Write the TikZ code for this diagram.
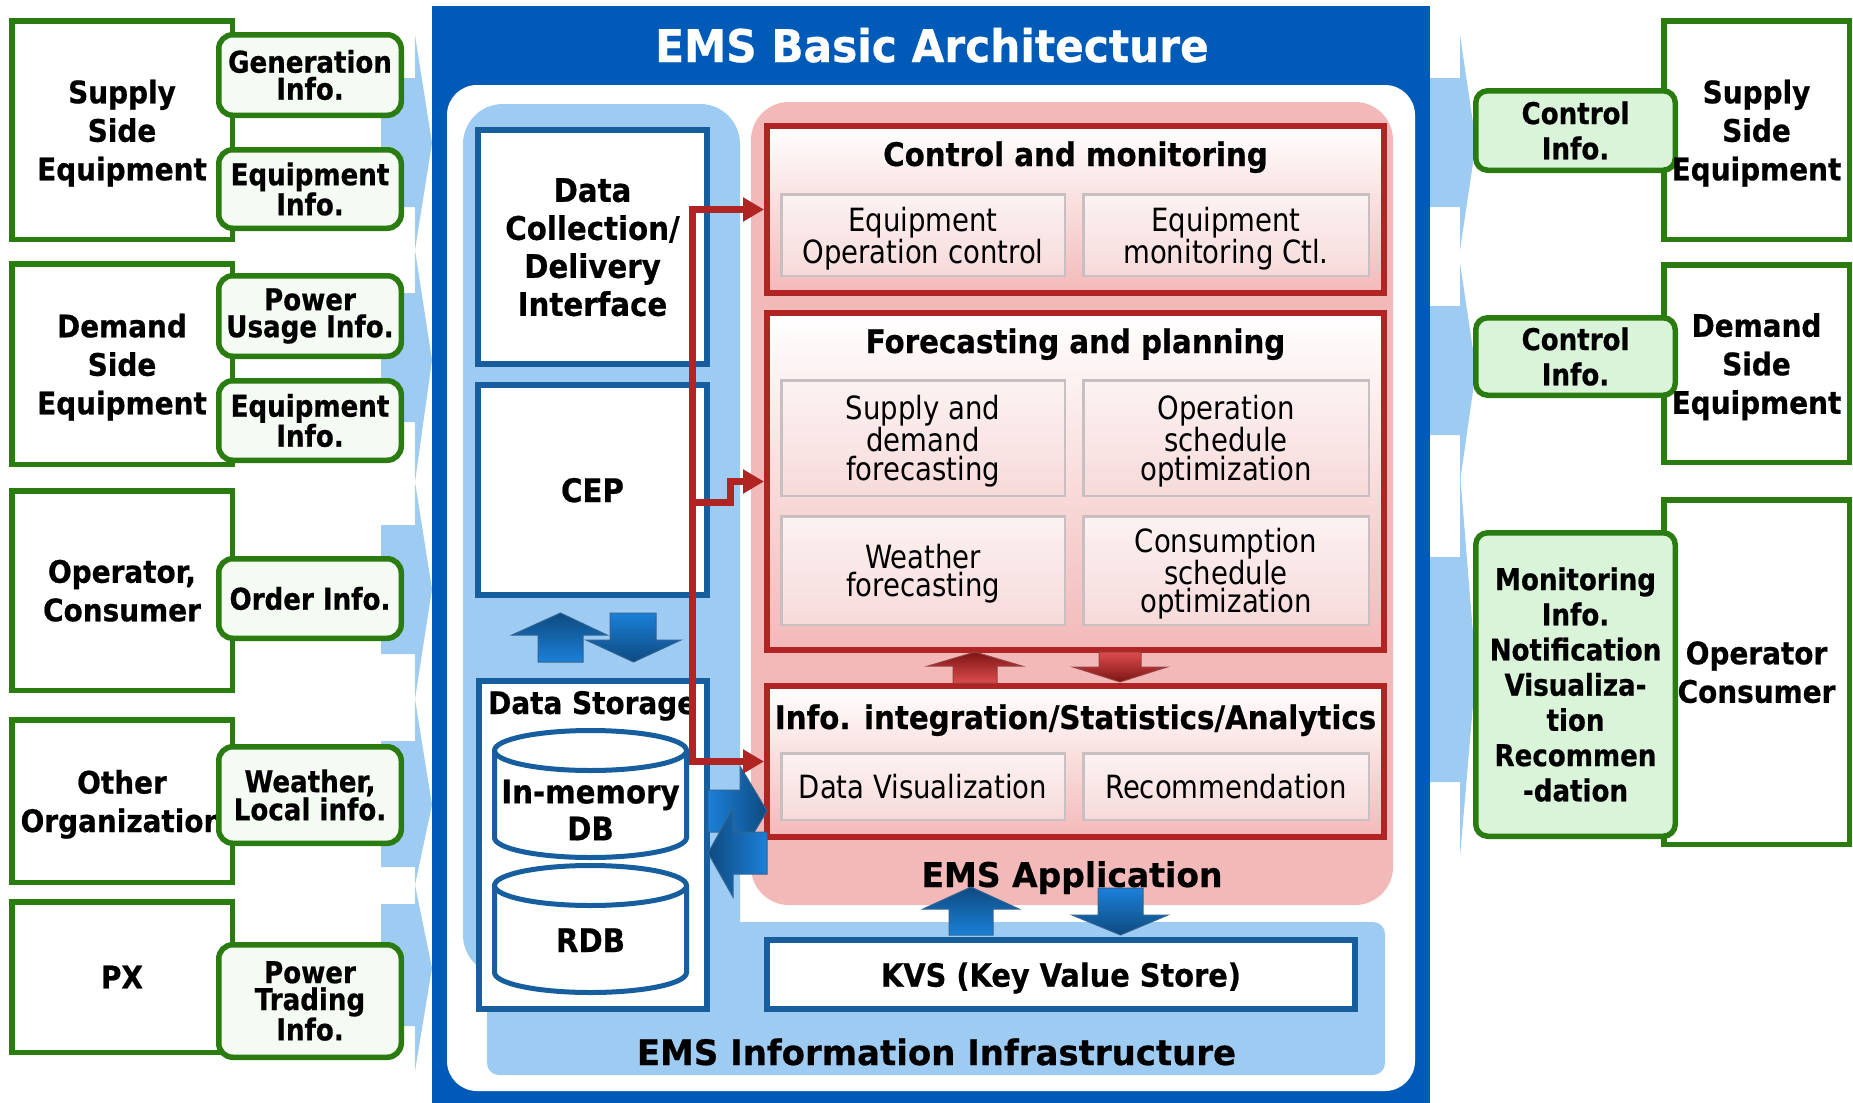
\documentclass[tikz,border=0pt]{standalone}
\usepackage{fontspec}
\setmainfont{DejaVu Sans}
\newfontfamily\fA{DejaVu Sans}[FakeStretch=0.90, BoldFeatures={FakeBold=0.6}]
\newfontfamily\fI{DejaVu Sans}[FakeStretch=0.87, BoldFeatures={FakeBold=0.6}]
\newfontfamily\fC{DejaVu Sans}[FakeStretch=0.86]
\newfontfamily\fT{DejaVu Sans}[FakeStretch=0.94, BoldFeatures={FakeBold=0.6}]
\newfontfamily\fE{DejaVu Sans}[FakeStretch=0.97, BoldFeatures={FakeBold=0.6}]
\usetikzlibrary{arrows.meta}

\definecolor{emsblue}{HTML}{005BB8}
\definecolor{skyb}{HTML}{9ECBF2}
\definecolor{grn}{HTML}{2A7B10}
\definecolor{grnL}{HTML}{F4FBF2}
\definecolor{grnR}{HTML}{DAF4DA}
\definecolor{dkb}{HTML}{165E9E}
\definecolor{redb}{HTML}{B02424}
\definecolor{pinkbg}{HTML}{F3B9B9}
\definecolor{subgray}{HTML}{C8C0C0}
\definecolor{subtop}{HTML}{FCF2F2}
\definecolor{subbot}{HTML}{F7DADA}
\definecolor{arrlight}{HTML}{1B80D8}
\definecolor{arrdark}{HTML}{0E4A80}
\definecolor{redlight}{HTML}{DE4C4C}
\definecolor{reddark}{HTML}{7C1414}

\begin{document}
\begin{tikzpicture}[x=1pt,y=-1pt,
  bigbox/.style={draw=grn, line width=5.5pt, fill=white, inner sep=0pt, align=center,
    text depth=0pt, font=\fA\bfseries\fontsize{31}{38.5}\selectfont},
  boxlabel/.style={inner sep=0pt, align=center, text depth=0pt,
    font=\fA\bfseries\fontsize{31}{38.5}\selectfont},
  infoL/.style={draw=grn, line width=5.5pt, fill=grnL, rounded corners=14pt, inner sep=0pt,
    align=center, font=\fI\bfseries\fontsize{30}{27}\selectfont},
  infoR/.style={draw=grn, line width=5.5pt, fill=grnR, rounded corners=12pt, inner sep=0pt,
    align=center, font=\fI\bfseries\fontsize{30}{35.2}\selectfont},
  dbox/.style={draw=dkb, line width=6pt, fill=white, inner sep=0pt, align=center,
    text depth=0pt, font=\fA\bfseries\fontsize{32.5}{38}\selectfont},
  secbox/.style={draw=redb, line width=6pt, top color=white, bottom color=pinkbg, inner sep=0pt},
  subbox/.style={draw=subgray, line width=2.5pt, top color=subtop, bottom color=subbot,
    inner sep=0pt, align=center, text depth=0pt, font=\fC\fontsize{32}{28.5}\selectfont},
  sectitle/.style={anchor=base, inner sep=0pt, font=\fA\bfseries\fontsize{32.5}{38}\selectfont},
  chev/.style={fill=skyb},
  redc/.style={draw=redb, line width=7pt, line join=miter},
  redtip/.style={-{Triangle[length=21pt,width=23pt]}},
  cyl/.style={draw=dkb, line width=5pt, fill=white},
  bluearr/.style={draw=arrdark!85, line width=1pt},
  redarr/.style={draw=reddark!80, line width=1pt}
]
\useasboundingbox (0,0) rectangle (1853,1103);

% ---- chevron arrows feeding the EMS (left) ----
\fill[chev] (381,78) -- (415,78) -- (415,35) -- (432,143) -- (415,250) -- (415,207) -- (381,207) -- cycle;
\fill[chev] (381,293) -- (415,293) -- (415,250) -- (432,360) -- (415,482) -- (415,422) -- (381,422) -- cycle;
\fill[chev] (381,525) -- (415,525) -- (415,482) -- (432,589) -- (415,699) -- (415,654) -- (381,654) -- cycle;
\fill[chev] (381,741) -- (415,741) -- (415,699) -- (432,805) -- (415,885) -- (415,867) -- (381,867) -- cycle;
\fill[chev] (381,904) -- (415,904) -- (415,885) -- (432,968) -- (415,1071) -- (415,1026) -- (381,1026) -- cycle;

% ---- chevron arrows leaving the EMS (right) ----
\fill[chev] (1426,78) -- (1460,78) -- (1460,35) -- (1476,143) -- (1460,250) -- (1460,207) -- (1426,207) -- cycle;
\fill[chev] (1426,306) -- (1460,306) -- (1460,263) -- (1476,370) -- (1460,482) -- (1460,435) -- (1426,435) -- cycle;
\fill[chev] (1426,557) -- (1460,557) -- (1460,473) -- (1476,670) -- (1460,857) -- (1460,782) -- (1426,782) -- cycle;

% ---- outer frame ----
\fill[emsblue] (432,6) rectangle (1430,1103);
\fill[white, rounded corners=30pt] (447,85) rectangle (1415,1091);
\node[anchor=base, inner sep=0pt, text=white, font=\fT\bfseries\fontsize{45}{50}\selectfont]
  (title) at (932,62) {EMS Basic Architecture};

% ---- infrastructure and application areas ----
\fill[skyb, rounded corners=40pt] (463,104) rectangle (740,975);
\fill[skyb, rounded corners=12pt] (487,922) rectangle (1385,1075);
\fill[pinkbg, rounded corners=38pt] (751,102) rectangle (1393,905);

% ---- infrastructure blocks ----
\node[dbox, minimum width=229pt, minimum height=234pt] (dcd) at (592.5,247)
  {Data\\Collection/\\Delivery\\Interface};
\node[dbox, minimum width=229pt, minimum height=210pt] (cep) at (592.5,490) {CEP};
\node[dbox, minimum width=228pt, minimum height=328pt] (ds) at (593,845) {};
\node[anchor=base west, inner sep=0pt, font=\fA\bfseries\fontsize{31}{37}\selectfont]
  (dslabel) at (488,714) {Data Storage};

% in-memory DB cylinder
\filldraw[cyl] (494.5,750.5) -- (494.5,837.5)
  arc[start angle=180, end angle=360, x radius=96pt, y radius=20pt]
  -- (686.5,750.5) arc[start angle=0, end angle=180, x radius=96pt, y radius=20pt] -- cycle;
\draw[cyl, fill=none] (494.5,750.5) arc[start angle=180, end angle=360, x radius=96pt, y radius=20pt];
% relational DB cylinder
\filldraw[cyl] (494.5,885.5) -- (494.5,972.5)
  arc[start angle=180, end angle=360, x radius=96pt, y radius=20pt]
  -- (686.5,885.5) arc[start angle=0, end angle=180, x radius=96pt, y radius=20pt] -- cycle;
\draw[cyl, fill=none] (494.5,885.5) arc[start angle=180, end angle=360, x radius=96pt, y radius=20pt];
\node[align=center, inner sep=0pt, font=\fA\bfseries\fontsize{32.5}{37}\selectfont]
  (imdb) at (590.5,810) {In-memory\\DB};
\node[anchor=base, inner sep=0pt, font=\fA\bfseries\fontsize{32.5}{37}\selectfont]
  (rdb) at (590.5,952) {RDB};

\node[dbox, minimum width=588pt, minimum height=69pt, font=\fA\bfseries\fontsize{32}{38}\selectfont]
  (kvs) at (1061,974.5) {KVS (Key Value Store)};
\node[anchor=base, inner sep=0pt, font=\fE\bfseries\fontsize{35}{40}\selectfont]
  (infra) at (936.5,1065) {EMS Information Infrastructure};

% ---- application sections ----
\node[secbox, minimum width=617pt, minimum height=167pt] (cm) at (1075.5,209.5) {};
\node[sectitle] (cmt) at (1075.5,166) {Control and monitoring};
\node[subbox, minimum width=283.5pt, minimum height=81.5pt] (eoc) at (923,235) {Equipment\\Operation control};
\node[subbox, minimum width=285.5pt, minimum height=81.5pt] (emc) at (1226,235) {Equipment\\monitoring Ctl.};

\node[secbox, minimum width=617pt, minimum height=337pt] (fp) at (1075.5,481.5) {};
\node[sectitle] (fpt) at (1075.5,353) {Forecasting and planning};
\node[subbox, minimum width=283.5pt, minimum height=115.5pt] (sdf) at (923,438) {Supply and\\demand\\forecasting};
\node[subbox, minimum width=285.5pt, minimum height=115.5pt] (oso) at (1226,438) {Operation\\schedule\\optimization};
\node[subbox, minimum width=283.5pt, minimum height=108.5pt] (wf) at (923,570.5) {Weather\\forecasting};
\node[subbox, minimum width=285.5pt, minimum height=108.5pt] (cso) at (1226,570.5) {Consumption\\schedule\\optimization};

\node[secbox, minimum width=617pt, minimum height=151pt] (ii) at (1075.5,761.5) {};
\node[sectitle] (iit) at (1075.5,729) {Info. integration/Statistics/Analytics};
\node[subbox, minimum width=283.5pt, minimum height=66.5pt] (dv) at (923,786.5) {Data Visualization};
\node[subbox, minimum width=285.5pt, minimum height=66.5pt] (rec) at (1226,786.5) {Recommendation};

\node[anchor=base, inner sep=0pt, font=\fE\bfseries\fontsize{34}{40}\selectfont]
  (appl) at (1072,887) {EMS Application};

% ---- block arrows between layers ----
% CEP <-> Data Storage
\shadedraw[bluearr, top color=arrdark, bottom color=arrlight]
  (538,662) -- (538,635) -- (512,635) -- (560.5,613) -- (607,635) -- (583,635) -- (583,662) -- cycle;
\shadedraw[bluearr, top color=arrlight, bottom color=arrdark]
  (610,613) -- (610,640) -- (586,640) -- (633.5,662) -- (681,640) -- (656,640) -- (656,613) -- cycle;
% EMS Application <-> KVS
\shadedraw[bluearr, top color=arrdark, bottom color=arrlight]
  (949,935) -- (949,909) -- (923,909) -- (971,887) -- (1019,909) -- (993,909) -- (993,935) -- cycle;
\shadedraw[bluearr, top color=arrlight, bottom color=arrdark]
  (1098,888) -- (1098,915) -- (1072,915) -- (1120.5,935) -- (1168,915) -- (1143,915) -- (1143,888) -- cycle;
% Forecasting <-> Info. integration
\shadedraw[redarr, top color=reddark, bottom color=redlight]
  (953,683) -- (953,666) -- (928,666) -- (975,652) -- (1022,666) -- (997,666) -- (997,683) -- cycle;
\shadedraw[redarr, top color=redlight, bottom color=reddark]
  (1099,652) -- (1099,667) -- (1073,667) -- (1120,682) -- (1167,667) -- (1141,667) -- (1141,652) -- cycle;
% Data Storage <-> Info. integration
\shadedraw[bluearr, left color=arrlight, right color=arrdark]
  (708,790) -- (740,790) -- (740,766) -- (767,811) -- (740,856) -- (740,832) -- (708,832) -- cycle;
\shadedraw[bluearr, left color=arrdark, right color=arrlight]
  (767,832) -- (733,832) -- (733,808) -- (708,853) -- (733,897) -- (733,874) -- (767,874) -- cycle;

% ---- data delivery connector ----
\coordinate (trunk) at (692,0);
\coordinate (jog) at (730,502);
\draw[redc, {Triangle[length=21pt,width=23pt]}-{Triangle[length=21pt,width=23pt]}]
  (cm.west) -- (trunk |- cm.west) -- (trunk |- ii.west) -- (ii.west);
\draw[redc, redtip] (trunk |- jog) -- (jog) |- (fp.west);

% ---- external parties (left) ----
\node[bigbox, minimum width=220.5pt, minimum height=218.5pt] (sse) at (122,130) {Supply\\Side\\Equipment};
\node[bigbox, minimum width=220.5pt, minimum height=200.5pt] (dse) at (122,364) {Demand\\Side\\Equipment};
\node[bigbox, minimum width=220.5pt, minimum height=199.5pt] (opc) at (122,590.5) {Operator,\\Consumer};
\node[bigbox, minimum width=220.5pt, minimum height=162.5pt] (oth) at (122,801) {Other\\Organization};
\node[bigbox, minimum width=220.5pt, minimum height=150.5pt] (px) at (122,977) {PX};

\node[infoL, minimum width=182.5pt, minimum height=80.5pt] (gen) at (310,75) {Generation\\Info.};
\node[infoL, minimum width=182.5pt, minimum height=78.5pt] (eqs) at (310,189) {Equipment\\Info.};
\node[infoL, minimum width=182.5pt, minimum height=80.5pt] (pwu) at (310,316) {Power\\Usage Info.};
\node[infoL, minimum width=182.5pt, minimum height=79.5pt] (eqd) at (310,420.5) {Equipment\\Info.};
\node[infoL, minimum width=182.5pt, minimum height=79.5pt] (ord) at (310,598.5) {Order Info.};
\node[infoL, minimum width=182.5pt, minimum height=96.5pt] (wli) at (310,795) {Weather,\\Local info.};
\node[infoL, minimum width=182.5pt, minimum height=112.5pt] (pti) at (310,1001) {Power\\Trading\\Info.};

% ---- external parties (right) ----
\node[bigbox, minimum width=185.5pt, minimum height=218.5pt] (rsse) at (1756.5,130) {};
\node[bigbox, minimum width=185.5pt, minimum height=197.5pt] (rdse) at (1756.5,363.5) {};
\node[bigbox, minimum width=185.5pt, minimum height=344.5pt] (ropc) at (1756.5,672) {};

\node[infoR, minimum width=199.5pt, minimum height=79.5pt] (ci1) at (1575.5,130.5) {Control\\Info.};
\node[infoR, minimum width=199.5pt, minimum height=77.5pt] (ci2) at (1575.5,356.5) {Control\\Info.};
\node[infoR, minimum width=199.5pt, minimum height=303.5pt] (mon) at (1575.5,684.5)
  {Monitoring\\Info.\\Notification\\Visualiza-\\tion\\Recommen\\-dation};

\node[boxlabel] (rssel) at (rsse.center) {Supply\\Side\\Equipment};
\node[boxlabel] (rdsel) at (rdse.center) {Demand\\Side\\Equipment};
\node[boxlabel] (ropcl) at (ropc.center) {Operator\\Consumer};

\end{tikzpicture}
\end{document}
